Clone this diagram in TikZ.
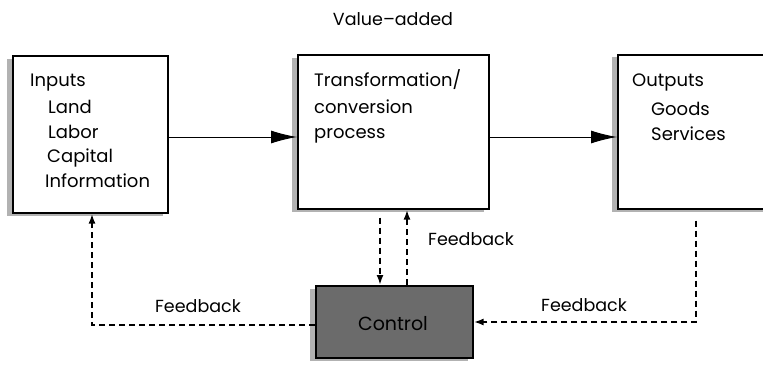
\documentclass[tikz,border=0pt]{standalone}
\usepackage{fontspec}
\setmainfont{Poppins}
\usetikzlibrary{arrows.meta}
\begin{document}
\begin{tikzpicture}[x=1pt,y=-1pt,
  shadow/.style={fill=black!30},
  txt/.style={font=\fontsize{18}{25}\selectfont,anchor=base west,inner sep=0pt},
  lbl/.style={font=\fontsize{17.5}{20}\selectfont,inner sep=0pt},
  flow/.style={line width=1pt,-{Latex[length=26pt,width=13pt]}},
  fb/.style={line width=2pt,dash pattern=on 6pt off 4pt,-{Latex[length=10pt,width=7pt]}}]
\useasboundingbox (0,0) rectangle (763,369);
% shadows
\fill[shadow] (7,59) rectangle (163,216);
\fill[shadow] (292,58) rectangle (484,212);
\fill[shadow] (612,57) rectangle (763,212);
\fill[shadow] (310,289) rectangle (468,361);
% boxes
\node[draw=black,line width=1.6pt,fill=white,inner sep=0pt,minimum width=155pt,minimum height=157pt,anchor=north west] (in) at (12,55) {};
\node[draw=black,line width=1.6pt,fill=white,inner sep=0pt,minimum width=191pt,minimum height=154pt,anchor=north west] (tr) at (297,54) {};
\node[draw=black,line width=1.6pt,fill=white,inner sep=0pt,minimum width=160pt,minimum height=154pt,anchor=north west] (out) at (617,54) {};
\node[draw=black,line width=1.6pt,fill=black!58,inner sep=0pt,minimum width=157pt,minimum height=72pt,anchor=north west] (ctl) at (315,285) {};
\node[lbl,text=black,font=\fontsize{19}{20}\selectfont] (ctltxt) at (393,324) {Control};
% texts
\node[txt] (t1) at (30,87) {Inputs};
\node[txt] (t2) at (48,113) {Land};
\node[txt] (t3) at (48,138) {Labor};
\node[txt] (t4) at (47,162) {Capital};
\node[txt] (t5) at (45,187) {Information};
\node[txt] (u1) at (314,87) {Transformation/};
\node[txt] (u2) at (314,113) {conversion};
\node[txt] (u3) at (314,138) {process};
\node[txt] (v1) at (632,87) {Outputs};
\node[txt] (v2) at (651,115) {Goods};
\node[txt] (v3) at (651,140) {Services};
\node[lbl] (va) at (393,19) {Value–added};
\node[lbl] (f1) at (198,306) {Feedback};
\node[lbl] (f2) at (471,239) {Feedback};
\node[lbl] (f3) at (584,305) {Feedback};
% flows
\draw[flow] (in.east |- 0,137) -- (tr.west |- 0,137);
\draw[flow] (tr.east |- 0,137) -- (out.west |- 0,137);
% feedback
\draw[fb] (tr.south -| 380,0) ++(0,8) -- (ctl.north -| 380,0);
\draw[fb] (ctl.north -| 407,0) -- (tr.south -| 407,0);
\coordinate (lc) at (92,325);
\draw[fb] (ctl.west |- 0,325) -- (lc) -- (in.south -| lc);
\coordinate (rc) at (696,322);
\draw[fb] (out.south -| rc) ++(0,11) -- (rc) -- (ctl.east |- rc);
\end{tikzpicture}
\end{document}
